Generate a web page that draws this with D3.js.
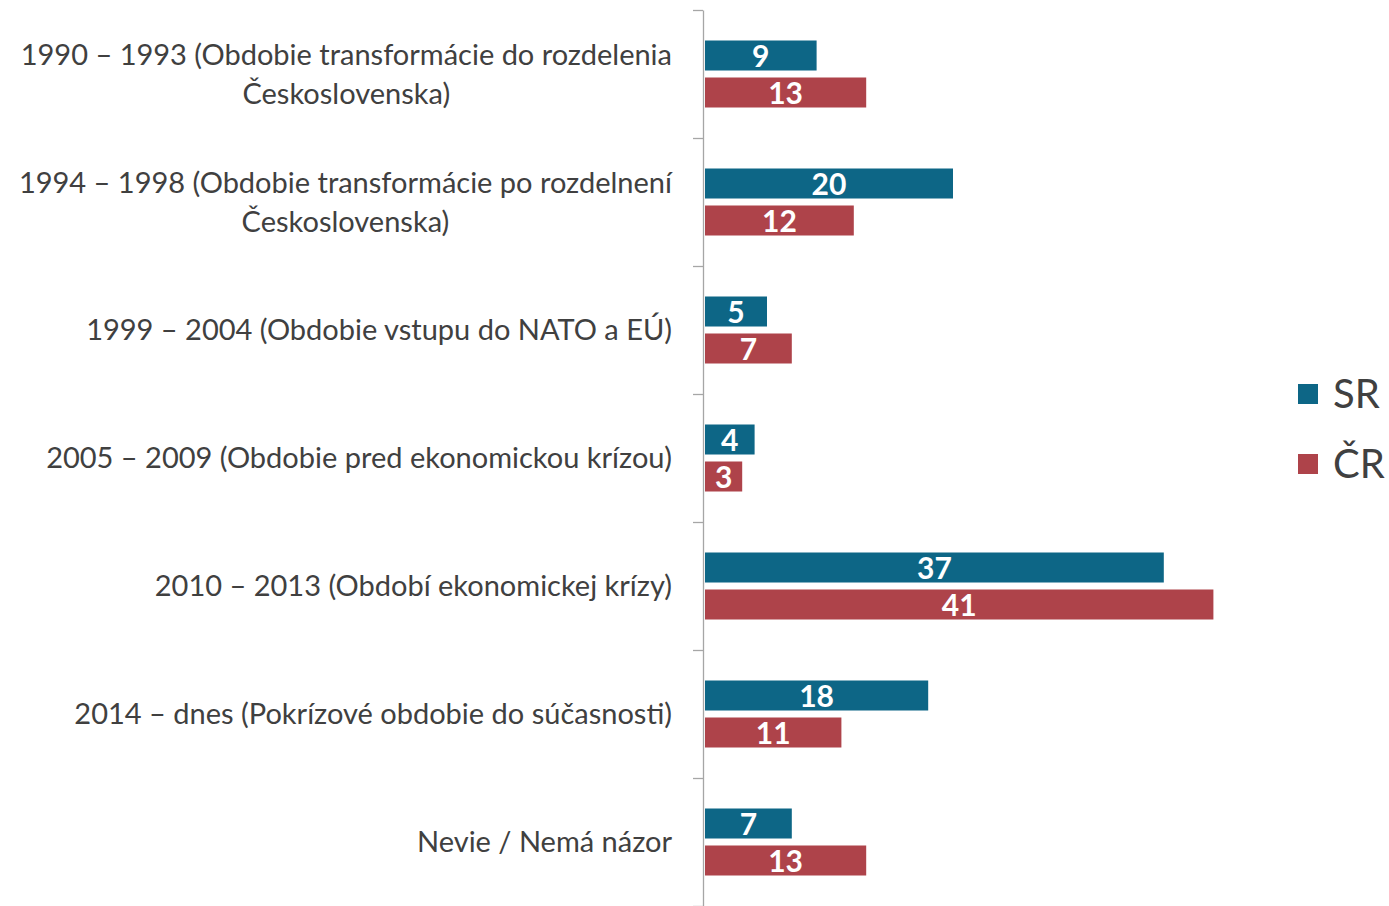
<!DOCTYPE html>
<html>
<head>
<meta charset="utf-8">
<script src="https://cdn.jsdelivr.net/npm/d3@7"></script>
<style>
  body { margin: 0; background: #fff; }
  svg { display: block; font-family: Lato, "Open Sans", sans-serif; }
</style>
</head>
<body>
<svg width="1389" height="906"></svg>
<script>
var categories = [
    ["1990 – 1993 (Obdobie transformácie do rozdelenia", "Československa)"],
    ["1994 – 1998 (Obdobie transformácie po rozdelnení", "Československa)"],
    ["1999 – 2004 (Obdobie vstupu do NATO a EÚ)"],
    ["2005 – 2009 (Obdobie pred ekonomickou krízou)"],
    ["2010 – 2013 (Období ekonomickej krízy)"],
    ["2014 – dnes (Pokrízové obdobie do súčasnosti)"],
    ["Nevie / Nemá názor"]
];
var series = ["SR", "ČR"];
var srValues = [9, 20, 5, 4, 37, 18, 7];
var crValues = [13, 12, 7, 3, 41, 11, 13];
var colors = ["#0d6686", "#ae434a"];

(function drawChart(){
    var svg = d3.select("svg");
    var top = 10, bottom = 906, axisX = 703, barX = 705;

    var keys = categories.map(function(d, i) { return "c" + i; });
    var y = d3.scaleBand().domain(keys).range([top, bottom]);
    var yEdge = d3.scaleLinear().domain([0, categories.length]).range([top, bottom]);
    var x = d3.scaleLinear().domain([0, 45]).range([barX, barX + 558]);
    var sub = d3.scaleBand().domain(series).range([0, 67]).paddingInner(0.189);
    var color = d3.scaleOrdinal().domain(series).range(colors);

    // axis line with ticks at category boundaries
    var axis = svg.append("g")
        .attr("transform", "translate(" + axisX + ",0)")
        .call(d3.axisLeft(yEdge)
            .tickValues(d3.range(categories.length + 1))
            .tickSize(10)
            .tickSizeOuter(0)
            .tickFormat(""));
    axis.selectAll("path, line").attr("stroke", "#a6a6a6").attr("stroke-width", 1.3);

    var rows = categories.map(function(c, i) {
        return {key: keys[i], lines: c, values: [srValues[i], crValues[i]]};
    });

    var groups = svg.selectAll(".row")
        .data(rows)
        .enter()
        .append("g")
        .attr("class", "row")
        .attr("transform", function(d) {
            return "translate(0," + (y(d.key) + y.bandwidth() / 2 - 33.5) + ")";
        });

    var bars = groups.selectAll(".bar")
        .data(function(d) { return series.map(function(s, j) { return {s: s, v: d.values[j]}; }); })
        .enter();

    bars.append("rect")
        .attr("class", "bar")
        .attr("x", x(0))
        .attr("y", function(d) { return sub(d.s); })
        .attr("width", function(d) { return x(d.v) - x(0); })
        .attr("height", sub.bandwidth())
        .attr("fill", function(d) { return color(d.s); });

    bars.append("text")
        .attr("x", function(d) { return (x(0) + x(d.v)) / 2; })
        .attr("y", function(d) { return sub(d.s) + sub.bandwidth() / 2; })
        .attr("dy", "0.38em")
        .attr("text-anchor", "middle")
        .attr("fill", "#fff")
        .style("font-weight", "bold")
        .style("font-size", "30px")
        .text(function(d) { return d.v; });

    // category labels: block right-aligned, lines centered within block
    var lineH = 39;
    groups.each(function(d) {
        var g = d3.select(this);
        var cy = 33.5;
        var t = g.append("text")
            .attr("fill", "#404040")
            .style("font-size", "29px")
            .attr("text-anchor", "middle");
        d.lines.forEach(function(line, k) {
            t.append("tspan")
                .attr("y", cy + (k - (d.lines.length - 1) / 2) * lineH)
                .attr("dy", "0.35em")
                .text(line);
        });
        var maxW = 0;
        t.selectAll("tspan").each(function() {
            maxW = Math.max(maxW, this.getComputedTextLength());
        });
        t.selectAll("tspan").attr("x", 672 - maxW / 2);
    });

    // legend
    var legend = svg.selectAll(".legend")
        .data(series)
        .enter()
        .append("g")
        .attr("class", "legend")
        .attr("transform", function(d, i) { return "translate(1298," + (394 + i * 70) + ")"; });

    legend.append("rect")
        .attr("x", 0)
        .attr("y", -10)
        .attr("width", 20)
        .attr("height", 20)
        .attr("fill", function(d) { return color(d); });

    legend.append("text")
        .attr("x", 35)
        .attr("y", 0)
        .attr("dy", "0.36em")
        .attr("fill", "#404040")
        .style("font-size", "40px")
        .text(function(d) { return d; });
})();
</script>
</body>
</html>
